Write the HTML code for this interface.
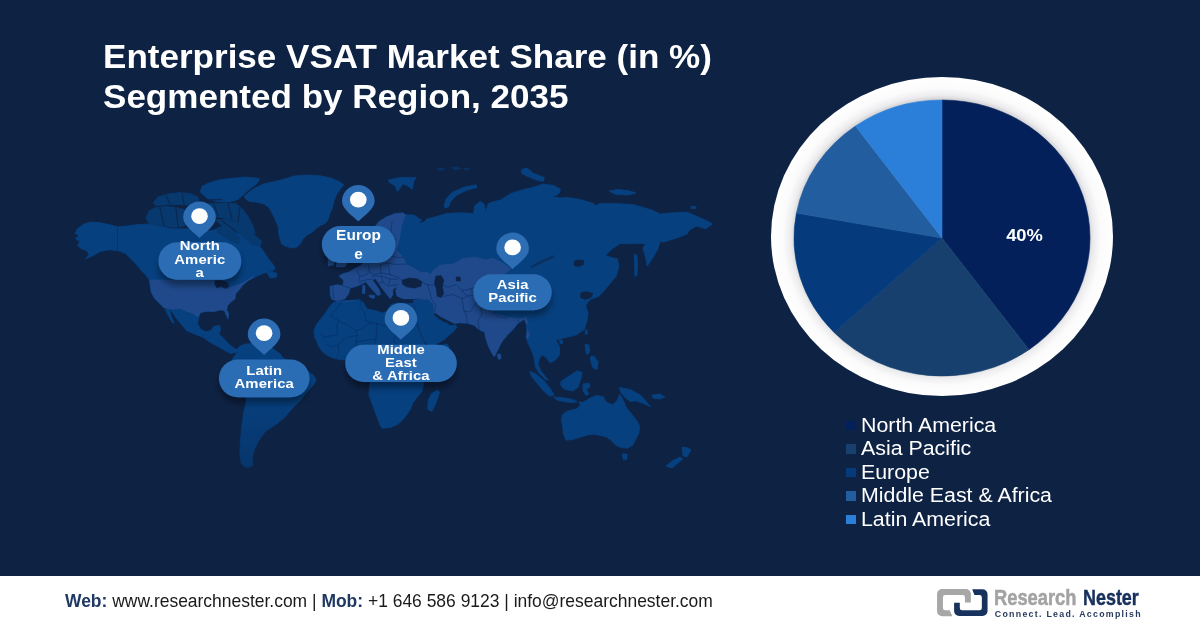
<!DOCTYPE html>
<html lang="en"><head><meta charset="utf-8"><title>Enterprise VSAT Market Share</title>
<style>
html,body{margin:0;padding:0;}
body{width:1200px;height:628px;overflow:hidden;background:#0e2244;font-family:"Liberation Sans",sans-serif;position:relative;}
#stage{position:absolute;left:0;top:0;width:1200px;height:628px;overflow:hidden;background:#0e2244;}
svg text{font-family:"Liberation Sans",sans-serif;}
.title{position:absolute;left:102.6px;top:37.1px;margin:0;color:#fff;font-weight:700;font-size:33px;line-height:39.5px;white-space:nowrap;transform-origin:0 0;transform:scaleX(1.062);}
.legend{position:absolute;left:845px;top:413.5px;color:#fff;font-size:20px;line-height:23.5px;white-space:nowrap;}
.legend div{position:relative;padding-left:16px;height:23.5px;}
.legend i{position:absolute;left:0.7px;top:7.3px;width:10.2px;height:9.5px;}
.legend span{display:inline-block;transform-origin:0 50%;transform:scaleX(1.067);}
.footer{position:absolute;left:0;top:576px;width:1200px;height:52px;background:#fff;}
.contact{position:absolute;left:65px;top:15.2px;font-size:17.47px;line-height:20px;color:#1a1a1a;white-space:nowrap;}
.contact b{color:#1f3864;}
.brand{position:absolute;top:9.5px;font-size:21.4px;line-height:24px;white-space:nowrap;transform-origin:0 0;transform:scaleX(0.838);font-weight:700;}
.tag{position:absolute;left:994.8px;top:33px;font-size:8.8px;line-height:10px;font-weight:700;color:#27395c;letter-spacing:1.28px;white-space:nowrap;}
</style></head><body><div id="stage">
<svg width="1200" height="576" viewBox="0 0 1200 576" style="position:absolute;left:0;top:0">
<defs>
<filter id="ds" x="-20%" y="-30%" width="140%" height="190%"><feGaussianBlur in="SourceAlpha" stdDeviation="3"/><feOffset dx="0" dy="6"/><feComponentTransfer><feFuncA type="linear" slope="0.38"/></feComponentTransfer><feMerge><feMergeNode/><feMergeNode in="SourceGraphic"/></feMerge></filter>
<linearGradient id="fade" x1="0" y1="0" x2="0" y2="1"><stop offset="0" stop-color="#0e2244" stop-opacity="0"/><stop offset="1" stop-color="#0e2244" stop-opacity="1"/></linearGradient>
<radialGradient id="ring" cx="0.5" cy="0.5" r="0.5"><stop offset="0.86" stop-color="#d4d4d8"/><stop offset="0.885" stop-color="#ececee"/><stop offset="0.93" stop-color="#fbfbfc"/><stop offset="1" stop-color="#ffffff"/></radialGradient>
</defs>
<g id="map"><clipPath id="landclip"><path d="M75.4,233.4 L77.4,228.8 L84.1,224.1 L90.8,222.1 L100.1,222.7 L109.5,224.7 L117.5,226.8 L126.9,226.1 L136.3,224.7 L145.6,224.1 L153.6,224.7 L161.7,226.8 L171.0,228.8 L180.4,228.8 L190.0,229.0 L200.0,230.0 L210.0,231.0 L217.0,229.0 L222.0,226.0 L227.0,223.5 L230.0,228.0 L236.0,233.0 L243.0,234.0 L248.0,232.0 L242.9,238.4 L252.2,237.1 L257.6,243.8 L262.9,250.5 L268.3,258.5 L273.6,265.2 L275.0,269.2 L268.3,272.0 L262.9,273.5 L257.0,276.0 L252.0,278.5 L247.1,281.5 L243.1,285.0 L239.1,290.1 L235.7,294.1 L235.1,298.8 L231.0,302.1 L227.7,305.5 L226.8,309.5 L228.6,314.1 L228.1,319.2 L226.4,315.5 L224.3,310.4 L220.3,310.1 L213.6,311.7 L205.6,311.5 L200.3,312.8 L198.9,316.8 L197.6,323.5 L200.3,328.9 L205.6,331.8 L211.0,330.5 L213.6,326.5 L219.7,325.5 L220.6,329.5 L219.0,334.2 L222.3,336.9 L226.8,342.1 L232.1,346.8 L236.8,349.5 L237.5,352.0 L230.8,353.5 L224.0,350.1 L216.0,345.5 L208.0,341.0 L202.9,337.2 L194.9,334.2 L186.9,330.9 L182.9,326.2 L176.2,318.2 L170.8,310.1 L164.1,308.1 L160.1,304.1 L154.8,298.8 L151.4,292.7 L150.1,286.1 L149.4,280.0 L146.0,275.5 L141.0,270.0 L136.0,264.2 L130.9,258.9 L125.6,253.5 L117.5,250.6 L109.5,249.8 L100.1,251.5 L93.4,255.5 L85.4,258.9 L88.8,254.8 L86.8,250.8 L81.4,248.8 L77.4,245.5 L80.1,241.5 L75.4,238.8 L78.7,235.5 L74.7,232.8Z M165.5,309.5 L169.5,309.8 L171.2,316.0 L174.2,322.8 L172.8,323.2 L169.0,317.0 L166.2,311.5Z M236.8,349.5 L240.1,346.1 L245.5,344.1 L252.0,343.5 L258.0,343.0 L265.0,345.0 L270.0,347.0 L274.9,350.1 L280.3,354.1 L283.0,358.2 L290.0,361.0 L298.0,364.0 L305.0,368.0 L309.7,372.9 L313.7,375.6 L316.0,380.0 L314.0,384.0 L306.2,393.1 L300.8,399.9 L292.7,408.0 L284.5,417.5 L276.4,424.2 L265.6,431.0 L258.8,440.5 L254.1,450.0 L252.1,458.0 L252.7,464.8 L250.7,467.0 L245.3,467.0 L241.2,463.5 L239.9,452.7 L240.6,439.1 L241.9,425.6 L243.9,412.0 L246.7,399.9 L243.0,392.0 L236.0,384.0 L231.0,375.0 L230.0,366.0 L233.0,358.0 L237.5,352.0Z M244.1,196.1 L253.5,188.8 L262.9,184.1 L274.9,181.4 L288.3,178.1 L293.6,176.1 L307.0,175.0 L320.4,175.8 L331.1,178.1 L339.1,181.4 L343.8,184.7 L340.5,188.8 L336.5,194.8 L333.8,201.5 L332.4,208.2 L329.8,213.5 L328.4,218.9 L325.8,222.9 L320.4,225.6 L316.4,228.2 L312.4,232.2 L307.0,234.9 L303.0,238.9 L300.3,244.0 L297.0,247.0 L293.6,248.0 L290.0,247.5 L285.0,246.0 L281.6,244.0 L278.9,234.9 L278.3,226.9 L274.9,218.9 L272.2,213.5 L269.6,208.2 L264.2,204.1 L256.2,202.1 L249.5,201.5 L245.5,198.8Z M267.0,273.0 L272.0,271.5 L277.0,273.5 L276.0,277.5 L270.0,277.9Z M200.2,192.1 L202.2,186.0 L209.2,183.0 L218.3,180.0 L230.3,178.5 L245.3,177.0 L259.5,178.5 L257.5,183.0 L250.5,188.5 L244.0,194.0 L238.0,199.5 L229.0,202.0 L216.3,201.3 L208.2,199.1Z M146.0,218.0 L149.0,211.0 L156.0,207.5 L166.0,206.5 L176.0,207.5 L184.0,209.5 L187.0,215.0 L188.5,221.0 L185.0,226.0 L176.0,227.3 L166.0,226.8 L156.0,225.5 L149.0,223.5Z M153.0,203.0 L158.0,197.0 L168.0,194.0 L180.0,192.5 L190.0,193.5 L198.0,197.0 L199.0,202.0 L190.0,205.0 L176.0,204.5 L164.0,205.0 L156.0,205.5Z M203.0,204.5 L214.0,203.2 L226.3,203.0 L236.0,203.8 L241.5,207.8 L248.0,216.2 L253.5,226.9 L255.5,234.0 L250.0,233.0 L243.0,226.5 L234.0,221.0 L224.0,218.0 L214.0,216.5 L205.0,214.0 L201.0,209.0Z M216.0,220.0 L226.0,219.5 L236.0,222.5 L245.0,228.0 L254.9,235.5 L261.6,241.0 L260.3,246.0 L252.2,244.5 L244.2,238.0 L237.5,232.5 L230.8,227.5 L221.0,225.0Z M217.5,227.7 L225.5,226.4 L233.5,231.8 L240.2,238.4 L238.9,243.8 L230.8,241.1 L222.8,235.8 L217.5,233.1Z M331.4,298.9 L330.1,293.5 L330.1,286.2 L336.8,284.8 L343.0,285.5 L343.4,280.1 L338.8,276.1 L343.4,273.4 L348.8,272.1 L354.1,268.8 L360.8,265.4 L364.0,262.0 L366.0,256.0 L366.0,248.0 L368.0,238.0 L372.0,230.0 L378.9,221.5 L386.0,217.0 L394.9,213.5 L402.9,212.8 L405.6,214.8 L414.0,215.0 L421.7,220.2 L418.0,224.0 L424.0,222.0 L427.0,218.9 L437.4,216.2 L446.8,213.5 L460.1,212.8 L473.5,213.5 L474.8,205.5 L480.2,201.5 L484.2,204.1 L486.0,212.0 L488.0,204.0 L489.6,202.8 L500.3,200.1 L511.0,193.4 L521.7,190.1 L535.0,186.8 L543.1,184.1 L553.8,185.4 L560.5,189.4 L559.1,193.4 L553.0,197.0 L560.0,198.0 L567.2,197.5 L580.0,199.4 L593.4,203.4 L595.0,206.0 L600.0,203.5 L613.4,203.4 L633.5,204.7 L652.2,210.1 L660.3,214.1 L673.6,212.7 L687.0,212.1 L697.7,216.8 L708.4,221.4 L712.4,224.1 L705.8,228.8 L696.4,226.1 L689.7,230.1 L687.0,234.1 L676.3,238.2 L662.9,242.2 L660.3,241.3 L657.7,249.4 L652.3,258.7 L647.2,266.1 L645.6,257.4 L642.9,248.0 L645.6,243.5 L638.9,243.5 L620.1,243.5 L612.1,248.9 L605.4,255.6 L613.0,258.0 L617.5,258.7 L618.9,266.8 L616.2,276.1 L610.8,282.8 L604.1,290.8 L598.8,296.2 L590.0,299.5 L585.6,305.5 L588.2,313.5 L586.9,321.5 L584.2,329.6 L576.2,334.9 L565.5,337.6 L556.1,340.3 L559.5,346.8 L559.5,354.8 L555.5,360.1 L550.1,362.8 L546.1,357.5 L542.1,354.8 L539.4,358.8 L538.1,364.1 L540.8,370.8 L546.1,377.5 L548.8,380.2 L545.0,379.0 L539.4,373.5 L535.4,366.8 L534.1,357.5 L531.0,349.4 L528.0,343.0 L526.0,337.0 L527.0,331.0 L526.5,325.0 L524.4,319.5 L520.4,322.1 L517.7,323.4 L513.7,328.8 L507.0,335.5 L501.7,342.2 L497.7,350.2 L494.3,356.9 L492.3,354.2 L488.3,346.2 L485.6,338.2 L484.3,331.5 L481.0,331.0 L480.3,330.1 L478.5,329.2 L474.3,325.4 L467.5,323.3 L459.1,322.9 L454.3,323.6 L447.0,319.8 L440.0,316.2 L435.0,312.4 L433.6,314.6 L438.0,318.9 L444.0,322.6 L447.5,323.2 L449.0,325.2 L453.0,325.8 L455.2,324.8 L457.0,327.1 L454.0,331.0 L450.6,333.9 L443.9,339.8 L438.0,343.0 L433.0,346.5 L428.6,346.0 L424.4,340.5 L420.1,331.0 L417.3,322.0 L415.6,313.0 L415.0,306.0 L413.0,303.5 L413.5,300.5 L419.0,299.6 L423.7,298.2 L414.3,298.9 L403.6,298.9 L397.0,296.2 L395.6,290.8 L397.0,286.8 L392.9,289.5 L392.9,294.8 L390.3,298.9 L386.3,293.8 L382.0,288.2 L378.0,282.2 L375.6,278.8 L372.5,280.3 L375.4,284.1 L379.2,289.5 L380.6,294.8 L377.6,295.6 L374.6,292.2 L369.6,286.8 L365.6,281.8 L362.2,284.1 L356.8,286.2 L350.1,288.2 L348.8,293.5 L344.8,298.9 L336.8,300.9Z M333.4,302.4 L340.1,301.1 L350.8,300.4 L360.2,299.7 L364.2,303.7 L366.9,309.1 L374.9,310.4 L382.9,313.1 L387.0,311.0 L391.0,304.5 L397.0,303.0 L405.0,303.4 L412.0,303.2 L414.0,306.0 L414.3,314.0 L415.8,322.0 L418.5,330.0 L422.5,339.0 L426.0,345.5 L438.0,346.0 L447.0,344.0 L449.0,347.0 L444.0,356.0 L437.0,366.0 L430.0,375.0 L423.6,382.7 L422.3,390.8 L417.0,397.5 L412.9,402.8 L410.3,409.5 L404.9,417.5 L398.2,424.2 L390.2,427.6 L382.2,428.2 L380.2,425.6 L376.8,416.2 L372.8,405.5 L368.8,394.8 L370.1,382.7 L369.0,375.0 L365.0,368.0 L362.0,362.0 L352.0,360.0 L344.1,359.9 L334.8,358.6 L328.1,355.9 L322.7,351.9 L318.7,346.5 L316.7,341.2 L314.7,337.2 L314.0,330.5 L316.1,325.1 L320.1,319.8 L325.4,313.1 L328.8,307.7Z M437.0,390.1 L439.7,392.0 L435.7,404.0 L431.7,411.5 L427.7,409.5 L428.3,400.0 L431.7,393.4Z M562.0,415.5 L566.1,411.5 L576.8,408.8 L583.4,402.1 L590.1,398.1 L596.8,395.4 L603.5,396.8 L606.2,402.1 L612.9,404.8 L616.9,400.8 L619.6,394.1 L623.6,400.8 L626.3,407.5 L631.6,414.1 L637.0,420.8 L639.6,426.2 L639.0,432.9 L635.6,439.6 L632.9,444.9 L627.6,448.3 L620.9,447.6 L615.6,444.9 L610.2,439.6 L606.2,436.9 L600.8,435.6 L594.1,434.2 L587.5,434.9 L580.8,436.9 L572.7,439.6 L566.1,440.2 L563.4,434.2 L562.7,426.2 L561.4,420.8Z M619.6,387.5 L630.3,389.5 L641.0,395.4 L649.0,404.8 L651.0,407.0 L643.6,403.4 L635.6,400.8 L630.3,401.5 L624.9,397.5 L620.9,392.5Z M652.0,395.0 L660.0,394.0 L665.0,397.0 L660.0,399.0 L653.0,398.0Z M622.0,454.0 L627.0,454.0 L627.0,459.0 L623.5,460.0Z M682.0,447.0 L688.0,448.0 L691.0,450.0 L687.0,457.0 L683.0,456.0Z M680.0,457.0 L683.0,459.0 L672.0,468.0 L666.0,466.0 L672.0,461.0Z M388.2,180.1 L400.3,177.4 L416.3,177.4 L413.6,181.4 L412.3,189.4 L407.0,185.4 L402.9,184.1 L397.6,191.4 L394.9,185.4 L389.6,182.7Z M444.1,205.5 L446.0,199.0 L452.0,192.5 L463.0,187.5 L476.2,184.8 L477.0,187.5 L466.0,190.5 L457.0,195.0 L451.0,201.0 L448.5,207.0 L445.0,208.0Z M521.7,169.4 L527.0,168.0 L533.7,173.4 L544.4,177.4 L543.1,181.4 L536.4,180.1 L527.0,176.1 L521.7,173.4Z M609.0,191.0 L618.0,189.5 L628.0,190.5 L636.0,193.0 L628.0,195.0 L616.0,194.5Z M691.0,206.5 L696.0,206.5 L696.0,208.5 L691.0,208.5Z M634.2,254.7 L636.9,254.7 L637.5,265.0 L636.9,276.1 L634.8,276.1 L634.5,265.0Z M559.5,340.0 L562.8,340.5 L562.5,344.0 L559.8,343.5Z M585.5,329.4 L587.6,330.5 L587.0,334.7 L585.0,333.5Z M585.0,344.0 L589.0,345.0 L589.5,352.0 L587.0,354.8 L585.5,350.0Z M590.3,357.0 L594.0,356.0 L598.3,362.0 L597.0,369.5 L593.0,368.0 L591.0,362.0Z M530.1,371.5 L535.4,373.5 L543.4,380.2 L550.1,388.2 L554.1,394.9 L550.1,396.3 L543.4,390.9 L536.8,382.9 L531.4,376.2Z M560.8,381.5 L568.9,376.2 L576.9,370.8 L582.2,372.2 L580.9,378.9 L578.2,386.9 L572.9,390.9 L564.8,389.6 L560.8,385.6Z M553.0,397.0 L562.0,397.5 L573.0,399.5 L577.0,402.0 L570.0,402.5 L558.0,400.5Z M583.0,384.0 L589.0,383.0 L590.0,387.0 L586.0,389.0 L589.0,394.0 L586.0,395.5 L583.0,391.0Z M579.0,402.0 L590.0,403.0 L596.0,405.0 L590.0,406.5 L580.0,404.5Z M497.0,354.5 L500.5,354.0 L501.0,358.5 L498.5,359.6Z M336.0,240.0 L342.0,238.0 L344.0,250.0 L348.0,262.0 L345.0,267.0 L336.0,267.0 L338.0,258.0 L335.0,250.0Z M328.0,255.0 L334.0,254.0 L334.0,265.0 L328.0,266.0Z M369.0,295.0 L375.0,295.5 L374.0,298.5 L370.0,297.5Z M362.5,285.5 L365.0,285.5 L365.0,293.5 L362.5,293.5Z"/></clipPath>
<linearGradient id="sag" gradientUnits="userSpaceOnUse" x1="0" y1="395" x2="0" y2="467"><stop offset="0" stop-color="#06407f"/><stop offset="1" stop-color="#07356b"/></linearGradient>
<path d="M75.4,233.4 L77.4,228.8 L84.1,224.1 L90.8,222.1 L100.1,222.7 L109.5,224.7 L117.5,226.8 L126.9,226.1 L136.3,224.7 L145.6,224.1 L153.6,224.7 L161.7,226.8 L171.0,228.8 L180.4,228.8 L190.0,229.0 L200.0,230.0 L210.0,231.0 L217.0,229.0 L222.0,226.0 L227.0,223.5 L230.0,228.0 L236.0,233.0 L243.0,234.0 L248.0,232.0 L242.9,238.4 L252.2,237.1 L257.6,243.8 L262.9,250.5 L268.3,258.5 L273.6,265.2 L275.0,269.2 L268.3,272.0 L262.9,273.5 L257.0,276.0 L252.0,278.5 L247.1,281.5 L243.1,285.0 L239.1,290.1 L235.7,294.1 L235.1,298.8 L231.0,302.1 L227.7,305.5 L226.8,309.5 L228.6,314.1 L228.1,319.2 L226.4,315.5 L224.3,310.4 L220.3,310.1 L213.6,311.7 L205.6,311.5 L200.3,312.8 L198.9,316.8 L197.6,323.5 L200.3,328.9 L205.6,331.8 L211.0,330.5 L213.6,326.5 L219.7,325.5 L220.6,329.5 L219.0,334.2 L222.3,336.9 L226.8,342.1 L232.1,346.8 L236.8,349.5 L237.5,352.0 L230.8,353.5 L224.0,350.1 L216.0,345.5 L208.0,341.0 L202.9,337.2 L194.9,334.2 L186.9,330.9 L182.9,326.2 L176.2,318.2 L170.8,310.1 L164.1,308.1 L160.1,304.1 L154.8,298.8 L151.4,292.7 L150.1,286.1 L149.4,280.0 L146.0,275.5 L141.0,270.0 L136.0,264.2 L130.9,258.9 L125.6,253.5 L117.5,250.6 L109.5,249.8 L100.1,251.5 L93.4,255.5 L85.4,258.9 L88.8,254.8 L86.8,250.8 L81.4,248.8 L77.4,245.5 L80.1,241.5 L75.4,238.8 L78.7,235.5 L74.7,232.8Z M165.5,309.5 L169.5,309.8 L171.2,316.0 L174.2,322.8 L172.8,323.2 L169.0,317.0 L166.2,311.5Z M244.1,196.1 L253.5,188.8 L262.9,184.1 L274.9,181.4 L288.3,178.1 L293.6,176.1 L307.0,175.0 L320.4,175.8 L331.1,178.1 L339.1,181.4 L343.8,184.7 L340.5,188.8 L336.5,194.8 L333.8,201.5 L332.4,208.2 L329.8,213.5 L328.4,218.9 L325.8,222.9 L320.4,225.6 L316.4,228.2 L312.4,232.2 L307.0,234.9 L303.0,238.9 L300.3,244.0 L297.0,247.0 L293.6,248.0 L290.0,247.5 L285.0,246.0 L281.6,244.0 L278.9,234.9 L278.3,226.9 L274.9,218.9 L272.2,213.5 L269.6,208.2 L264.2,204.1 L256.2,202.1 L249.5,201.5 L245.5,198.8Z M267.0,273.0 L272.0,271.5 L277.0,273.5 L276.0,277.5 L270.0,277.9Z M200.2,192.1 L202.2,186.0 L209.2,183.0 L218.3,180.0 L230.3,178.5 L245.3,177.0 L259.5,178.5 L257.5,183.0 L250.5,188.5 L244.0,194.0 L238.0,199.5 L229.0,202.0 L216.3,201.3 L208.2,199.1Z M331.4,298.9 L330.1,293.5 L330.1,286.2 L336.8,284.8 L343.0,285.5 L343.4,280.1 L338.8,276.1 L343.4,273.4 L348.8,272.1 L354.1,268.8 L360.8,265.4 L364.0,262.0 L366.0,256.0 L366.0,248.0 L368.0,238.0 L372.0,230.0 L378.9,221.5 L386.0,217.0 L394.9,213.5 L402.9,212.8 L405.6,214.8 L414.0,215.0 L421.7,220.2 L418.0,224.0 L424.0,222.0 L427.0,218.9 L437.4,216.2 L446.8,213.5 L460.1,212.8 L473.5,213.5 L474.8,205.5 L480.2,201.5 L484.2,204.1 L486.0,212.0 L488.0,204.0 L489.6,202.8 L500.3,200.1 L511.0,193.4 L521.7,190.1 L535.0,186.8 L543.1,184.1 L553.8,185.4 L560.5,189.4 L559.1,193.4 L553.0,197.0 L560.0,198.0 L567.2,197.5 L580.0,199.4 L593.4,203.4 L595.0,206.0 L600.0,203.5 L613.4,203.4 L633.5,204.7 L652.2,210.1 L660.3,214.1 L673.6,212.7 L687.0,212.1 L697.7,216.8 L708.4,221.4 L712.4,224.1 L705.8,228.8 L696.4,226.1 L689.7,230.1 L687.0,234.1 L676.3,238.2 L662.9,242.2 L660.3,241.3 L657.7,249.4 L652.3,258.7 L647.2,266.1 L645.6,257.4 L642.9,248.0 L645.6,243.5 L638.9,243.5 L620.1,243.5 L612.1,248.9 L605.4,255.6 L613.0,258.0 L617.5,258.7 L618.9,266.8 L616.2,276.1 L610.8,282.8 L604.1,290.8 L598.8,296.2 L590.0,299.5 L585.6,305.5 L588.2,313.5 L586.9,321.5 L584.2,329.6 L576.2,334.9 L565.5,337.6 L556.1,340.3 L559.5,346.8 L559.5,354.8 L555.5,360.1 L550.1,362.8 L546.1,357.5 L542.1,354.8 L539.4,358.8 L538.1,364.1 L540.8,370.8 L546.1,377.5 L548.8,380.2 L545.0,379.0 L539.4,373.5 L535.4,366.8 L534.1,357.5 L531.0,349.4 L528.0,343.0 L526.0,337.0 L527.0,331.0 L526.5,325.0 L524.4,319.5 L520.4,322.1 L517.7,323.4 L513.7,328.8 L507.0,335.5 L501.7,342.2 L497.7,350.2 L494.3,356.9 L492.3,354.2 L488.3,346.2 L485.6,338.2 L484.3,331.5 L481.0,331.0 L480.3,330.1 L478.5,329.2 L474.3,325.4 L467.5,323.3 L459.1,322.9 L454.3,323.6 L447.0,319.8 L440.0,316.2 L435.0,312.4 L433.6,314.6 L438.0,318.9 L444.0,322.6 L447.5,323.2 L449.0,325.2 L453.0,325.8 L455.2,324.8 L457.0,327.1 L454.0,331.0 L450.6,333.9 L443.9,339.8 L438.0,343.0 L433.0,346.5 L428.6,346.0 L424.4,340.5 L420.1,331.0 L417.3,322.0 L415.6,313.0 L415.0,306.0 L413.0,303.5 L413.5,300.5 L419.0,299.6 L423.7,298.2 L414.3,298.9 L403.6,298.9 L397.0,296.2 L395.6,290.8 L397.0,286.8 L392.9,289.5 L392.9,294.8 L390.3,298.9 L386.3,293.8 L382.0,288.2 L378.0,282.2 L375.6,278.8 L372.5,280.3 L375.4,284.1 L379.2,289.5 L380.6,294.8 L377.6,295.6 L374.6,292.2 L369.6,286.8 L365.6,281.8 L362.2,284.1 L356.8,286.2 L350.1,288.2 L348.8,293.5 L344.8,298.9 L336.8,300.9Z M333.4,302.4 L340.1,301.1 L350.8,300.4 L360.2,299.7 L364.2,303.7 L366.9,309.1 L374.9,310.4 L382.9,313.1 L387.0,311.0 L391.0,304.5 L397.0,303.0 L405.0,303.4 L412.0,303.2 L414.0,306.0 L414.3,314.0 L415.8,322.0 L418.5,330.0 L422.5,339.0 L426.0,345.5 L438.0,346.0 L447.0,344.0 L449.0,347.0 L444.0,356.0 L437.0,366.0 L430.0,375.0 L423.6,382.7 L422.3,390.8 L417.0,397.5 L412.9,402.8 L410.3,409.5 L404.9,417.5 L398.2,424.2 L390.2,427.6 L382.2,428.2 L380.2,425.6 L376.8,416.2 L372.8,405.5 L368.8,394.8 L370.1,382.7 L369.0,375.0 L365.0,368.0 L362.0,362.0 L352.0,360.0 L344.1,359.9 L334.8,358.6 L328.1,355.9 L322.7,351.9 L318.7,346.5 L316.7,341.2 L314.7,337.2 L314.0,330.5 L316.1,325.1 L320.1,319.8 L325.4,313.1 L328.8,307.7Z M437.0,390.1 L439.7,392.0 L435.7,404.0 L431.7,411.5 L427.7,409.5 L428.3,400.0 L431.7,393.4Z M562.0,415.5 L566.1,411.5 L576.8,408.8 L583.4,402.1 L590.1,398.1 L596.8,395.4 L603.5,396.8 L606.2,402.1 L612.9,404.8 L616.9,400.8 L619.6,394.1 L623.6,400.8 L626.3,407.5 L631.6,414.1 L637.0,420.8 L639.6,426.2 L639.0,432.9 L635.6,439.6 L632.9,444.9 L627.6,448.3 L620.9,447.6 L615.6,444.9 L610.2,439.6 L606.2,436.9 L600.8,435.6 L594.1,434.2 L587.5,434.9 L580.8,436.9 L572.7,439.6 L566.1,440.2 L563.4,434.2 L562.7,426.2 L561.4,420.8Z M619.6,387.5 L630.3,389.5 L641.0,395.4 L649.0,404.8 L651.0,407.0 L643.6,403.4 L635.6,400.8 L630.3,401.5 L624.9,397.5 L620.9,392.5Z M652.0,395.0 L660.0,394.0 L665.0,397.0 L660.0,399.0 L653.0,398.0Z M622.0,454.0 L627.0,454.0 L627.0,459.0 L623.5,460.0Z M682.0,447.0 L688.0,448.0 L691.0,450.0 L687.0,457.0 L683.0,456.0Z M680.0,457.0 L683.0,459.0 L672.0,468.0 L666.0,466.0 L672.0,461.0Z M388.2,180.1 L400.3,177.4 L416.3,177.4 L413.6,181.4 L412.3,189.4 L407.0,185.4 L402.9,184.1 L397.6,191.4 L394.9,185.4 L389.6,182.7Z M444.1,205.5 L446.0,199.0 L452.0,192.5 L463.0,187.5 L476.2,184.8 L477.0,187.5 L466.0,190.5 L457.0,195.0 L451.0,201.0 L448.5,207.0 L445.0,208.0Z M521.7,169.4 L527.0,168.0 L533.7,173.4 L544.4,177.4 L543.1,181.4 L536.4,180.1 L527.0,176.1 L521.7,173.4Z M609.0,191.0 L618.0,189.5 L628.0,190.5 L636.0,193.0 L628.0,195.0 L616.0,194.5Z M691.0,206.5 L696.0,206.5 L696.0,208.5 L691.0,208.5Z M634.2,254.7 L636.9,254.7 L637.5,265.0 L636.9,276.1 L634.8,276.1 L634.5,265.0Z M559.5,340.0 L562.8,340.5 L562.5,344.0 L559.8,343.5Z M585.5,329.4 L587.6,330.5 L587.0,334.7 L585.0,333.5Z M585.0,344.0 L589.0,345.0 L589.5,352.0 L587.0,354.8 L585.5,350.0Z M590.3,357.0 L594.0,356.0 L598.3,362.0 L597.0,369.5 L593.0,368.0 L591.0,362.0Z M530.1,371.5 L535.4,373.5 L543.4,380.2 L550.1,388.2 L554.1,394.9 L550.1,396.3 L543.4,390.9 L536.8,382.9 L531.4,376.2Z M560.8,381.5 L568.9,376.2 L576.9,370.8 L582.2,372.2 L580.9,378.9 L578.2,386.9 L572.9,390.9 L564.8,389.6 L560.8,385.6Z M553.0,397.0 L562.0,397.5 L573.0,399.5 L577.0,402.0 L570.0,402.5 L558.0,400.5Z M583.0,384.0 L589.0,383.0 L590.0,387.0 L586.0,389.0 L589.0,394.0 L586.0,395.5 L583.0,391.0Z M579.0,402.0 L590.0,403.0 L596.0,405.0 L590.0,406.5 L580.0,404.5Z M497.0,354.5 L500.5,354.0 L501.0,358.5 L498.5,359.6Z M336.0,240.0 L342.0,238.0 L344.0,250.0 L348.0,262.0 L345.0,267.0 L336.0,267.0 L338.0,258.0 L335.0,250.0Z M328.0,255.0 L334.0,254.0 L334.0,265.0 L328.0,266.0Z M369.0,295.0 L375.0,295.5 L374.0,298.5 L370.0,297.5Z M362.5,285.5 L365.0,285.5 L365.0,293.5 L362.5,293.5Z" fill="#06407f" stroke="#06407f" stroke-width="0.8" stroke-linejoin="round"/>
<path d="M146.0,218.0 L149.0,211.0 L156.0,207.5 L166.0,206.5 L176.0,207.5 L184.0,209.5 L187.0,215.0 L188.5,221.0 L185.0,226.0 L176.0,227.3 L166.0,226.8 L156.0,225.5 L149.0,223.5Z M153.0,203.0 L158.0,197.0 L168.0,194.0 L180.0,192.5 L190.0,193.5 L198.0,197.0 L199.0,202.0 L190.0,205.0 L176.0,204.5 L164.0,205.0 L156.0,205.5Z M203.0,204.5 L214.0,203.2 L226.3,203.0 L236.0,203.8 L241.5,207.8 L248.0,216.2 L253.5,226.9 L255.5,234.0 L250.0,233.0 L243.0,226.5 L234.0,221.0 L224.0,218.0 L214.0,216.5 L205.0,214.0 L201.0,209.0Z M216.0,220.0 L226.0,219.5 L236.0,222.5 L245.0,228.0 L254.9,235.5 L261.6,241.0 L260.3,246.0 L252.2,244.5 L244.2,238.0 L237.5,232.5 L230.8,227.5 L221.0,225.0Z M217.5,227.7 L225.5,226.4 L233.5,231.8 L240.2,238.4 L238.9,243.8 L230.8,241.1 L222.8,235.8 L217.5,233.1Z" fill="#07396f" stroke="#07396f" stroke-width="0.8" stroke-linejoin="round"/>
<path d="M160,208 L164,226 M176,208 L178,227 M214,204 L218,216 M228,203.5 L232,219 M240,207 L238,222 M166,195 L170,204 M182,193 L184,204.5 M222,221 L236,231 M206,200 L222,199.5" fill="none" stroke="#0e2244" stroke-width="1.3" stroke-linecap="round" opacity="0.7"/>
<path d="M236.8,349.5 L240.1,346.1 L245.5,344.1 L252.0,343.5 L258.0,343.0 L265.0,345.0 L270.0,347.0 L274.9,350.1 L280.3,354.1 L283.0,358.2 L290.0,361.0 L298.0,364.0 L305.0,368.0 L309.7,372.9 L313.7,375.6 L316.0,380.0 L314.0,384.0 L306.2,393.1 L300.8,399.9 L292.7,408.0 L284.5,417.5 L276.4,424.2 L265.6,431.0 L258.8,440.5 L254.1,450.0 L252.1,458.0 L252.7,464.8 L250.7,467.0 L245.3,467.0 L241.2,463.5 L239.9,452.7 L240.6,439.1 L241.9,425.6 L243.9,412.0 L246.7,399.9 L243.0,392.0 L236.0,384.0 L231.0,375.0 L230.0,366.0 L233.0,358.0 L237.5,352.0Z" fill="url(#sag)" stroke="url(#sag)" stroke-width="0.8" stroke-linejoin="round"/>
<g clip-path="url(#landclip)"><path d="M146.0,279.6 L214.0,280.2 L216.0,283.0 L222.0,288.0 L228.0,288.5 L233.7,286.1 L240.4,283.4 L247.1,280.0 L252.0,276.5 L258.0,279.0 L240.0,300.0 L232.0,322.0 L222.0,318.0 L214.0,314.0 L204.0,314.0 L198.9,317.3 L196.3,316.2 L192.2,313.5 L186.9,311.7 L180.2,308.8 L173.5,309.5 L164.1,308.4 L158.0,310.0 L140.0,290.0Z M322.0,303.0 L318.0,250.0 L360.0,200.0 L400.0,205.0 L406.0,214.0 L402.0,225.0 L400.0,238.0 L397.0,250.0 L403.6,257.4 L406.3,264.1 L414.0,268.0 L421.0,272.1 L427.0,272.0 L430.4,274.0 L433.4,270.1 L440.1,264.7 L453.5,263.4 L462.9,258.0 L474.9,256.7 L485.6,259.4 L493.6,258.0 L504.3,263.4 L511.0,268.7 L507.0,272.7 L496.3,276.8 L493.6,283.4 L491.0,290.1 L482.9,294.1 L480.3,300.8 L485.6,303.5 L488.3,307.5 L493.6,312.9 L507.0,316.9 L520.4,318.2 L526.4,316.9 L528.4,322.2 L526.3,326.0 L530.0,335.0 L510.0,368.0 L488.0,368.0 L474.0,334.0 L462.0,325.5 L455.0,324.2 L447.0,320.8 L440.0,317.2 L434.2,313.4 L433.0,304.3 L428.0,299.6 L421.0,299.6 L413.0,301.0 L400.0,302.0 L382.0,300.0 L366.0,297.5 L352.0,301.6 L335.0,301.7Z" fill="#1f498b"/></g>
<path d="M402.3,280.1 L409.0,278.1 L417.0,278.8 L421.7,281.5 L421.0,286.2 L414.3,288.2 L406.3,286.8 L402.3,284.1Z M435.8,276.1 L441.1,275.5 L443.8,280.1 L442.4,286.8 L443.8,293.5 L441.1,297.5 L437.1,296.2 L436.4,289.5 L434.4,282.8Z M456.0,277.0 L460.0,277.0 L460.5,281.0 L456.5,281.0Z M215.0,281.0 L221.0,280.5 L227.0,282.5 L229.0,286.0 L226.0,288.5 L221.0,286.5 L217.0,288.0 L215.0,285.0Z M580.5,293.0 L586.0,291.5 L593.0,293.5 L591.0,297.5 L585.0,299.5 L580.5,297.5Z M574.0,261.5 L577.0,260.0 L583.5,260.3 L583.8,264.5 L579.0,266.6 L574.2,265.8Z" fill="#0e2244" stroke="#0e2244" stroke-width="0.5" stroke-linejoin="round"/>
<path d="M530.6,266.4 L536.0,263.3 L545.0,258.8 L553.3,255.3 L554.3,257.2 L546.0,261.0 L537.0,265.6 L531.4,268.2Z" fill="#0e2244" opacity="0.55"/>
<path d="M436,168.5 L442,167.5 L446,169.5 L440,171Z M450,167 L457,166.5 L462,168.5 L455,170.5Z M463,168 L468,167.5 L470,169.5 L465,170.5Z" fill="#06407f" opacity="0.5"/>
<g clip-path="url(#landclip)"><path d="M341.5,302.0 L336.0,309.0 L331.0,316.0 M360.5,300.0 L360.0,307.0 L364.5,312.0 L366.0,321.0 L370.5,322.5 M397.0,303.5 L397.5,325.0 L417.0,325.0 M370.5,322.5 L377.0,323.5 L396.0,329.5 L397.5,325.0 M331.0,316.0 L338.5,320.5 L351.0,327.0 L355.5,330.5 L361.0,329.5 L370.5,322.5 M338.5,320.5 L337.0,326.0 L337.5,334.5 L324.5,337.0 L320.0,334.0 M355.5,330.5 L357.5,335.5 L349.5,337.0 L343.0,339.5 L338.0,344.5 L333.0,347.0 L327.0,345.0 M357.5,335.5 L356.0,342.0 L365.0,340.5 L376.0,339.0 L377.0,323.5 M396.0,329.5 L394.0,341.0 L399.0,347.0 M338.0,344.5 L339.0,352.0 L336.0,358.0 M356.0,342.0 L355.0,350.0 L352.0,359.0 M376.0,339.0 L374.0,347.0 L368.0,356.0 L365.0,361.0 M343.0,285.8 L350.5,288.3 M332.8,286.5 L333.5,298.5 M356.5,270.5 L360.0,276.0 L359.0,281.0 L361.5,284.5 M368.0,263.5 L369.5,272.0 L374.0,274.5 M361.0,281.0 L368.0,279.5 L374.5,279.0 M380.0,264.0 L381.0,273.0 L390.0,274.5 L398.0,277.5 L402.0,280.5 M372.0,276.0 L381.0,276.0 L390.0,279.0 L397.0,279.5 M360.0,276.0 L366.0,275.0 L369.5,272.0 M381.0,276.0 L383.0,282.0 L388.0,286.0 L392.0,285.5 L397.5,284.5 M374.0,274.5 L381.0,273.0 M383.0,282.0 L379.5,283.0 M390.0,279.0 L389.0,284.0 M386.0,249.0 L391.0,256.0 L397.0,257.5 L403.6,257.4 M381.0,264.5 L388.0,263.0 L396.0,264.5 L406.3,264.1 M388.0,263.0 L390.0,274.5 M372.0,232.0 L377.0,240.0 L375.0,250.0 M392.0,222.0 L391.0,232.0 L396.0,240.0 M440.0,284.0 L448.0,287.5 L456.0,284.5 L462.0,290.5 L470.0,289.0 L479.0,286.0 L486.0,290.0 L491.0,290.1 M443.0,296.5 L452.0,294.5 L462.0,298.5 L468.0,296.0 L476.0,294.5 L483.0,294.5 M462.0,298.5 L463.5,309.0 L466.5,316.0 L467.5,323.0 M483.0,294.5 L479.0,300.5 L474.0,306.0 L470.0,312.0 L464.0,311.0 M485.6,303.5 L481.0,309.0 L482.0,315.0 L478.0,321.0 L479.0,329.5 M429.0,289.0 L431.5,299.0 L436.0,306.0 L434.8,312.0 M421.0,281.8 L428.0,285.0 L436.0,285.0 M428.0,285.0 L429.0,289.0 M490.0,311.0 L498.0,316.5 L507.0,318.5 M518.0,318.5 L519.0,323.0 L524.0,320.0 M462.0,290.5 L466.0,295.0 L468.0,296.0 M470.0,289.0 L476.0,294.5 M479.0,286.0 L483.0,290.0 L491.0,290.1 M117.5,226.8 L117.5,250.6 L125.0,254.0 L132.0,260.5 L140.0,269.5" fill="none" stroke="#06295a" stroke-width="0.8" stroke-linejoin="round" stroke-linecap="round" opacity="0.6"/></g></g>
<g id="labels">
<rect x="158.4" y="242.2" width="82.9" height="37.5" rx="18.8" ry="18.8" fill="#2c6db4" filter="url(#ds)"/><path d="M183.20,217.70 A16.3,16.3 0 0 1 215.80,217.70 C215.80,225.85 204.39,232.70 199.50,238.00 C194.61,232.70 183.20,225.85 183.20,217.70 Z" fill="#2c6db4"/><ellipse cx="199.50" cy="216.20" rx="8.3" ry="7.9" fill="#fff"/><text transform="translate(199.8,250.4) scale(1.1,1)" text-anchor="middle" font-size="13.5" font-weight="700" fill="#fff" letter-spacing="0.1">North</text><text transform="translate(199.8,263.5) scale(1.1,1)" text-anchor="middle" font-size="13.5" font-weight="700" fill="#fff" letter-spacing="0.1">Americ</text><text transform="translate(199.8,276.6) scale(1.1,1)" text-anchor="middle" font-size="13.5" font-weight="700" fill="#fff" letter-spacing="0.1">a</text>
<rect x="321.9" y="226" width="73.6" height="36.9" rx="18.4" ry="18.4" fill="#2c6db4" filter="url(#ds)"/><path d="M342.00,201.20 A16.3,16.3 0 0 1 374.60,201.20 C374.60,209.35 363.19,216.20 358.30,221.50 C353.41,216.20 342.00,209.35 342.00,201.20 Z" fill="#2c6db4"/><ellipse cx="358.30" cy="199.70" rx="8.3" ry="7.9" fill="#fff"/><text transform="translate(358.6,240.4) scale(1.1,1)" text-anchor="middle" font-size="14" font-weight="700" fill="#fff" letter-spacing="0.1">Europ</text><text transform="translate(358.6,258.8) scale(1.1,1)" text-anchor="middle" font-size="14" font-weight="700" fill="#fff" letter-spacing="0.1">e</text>
<rect x="473.4" y="274.3" width="78.3" height="35.9" rx="17.9" ry="17.9" fill="#2c6db4" filter="url(#ds)"/><path d="M496.30,248.90 A16.3,16.3 0 0 1 528.90,248.90 C528.90,257.05 517.49,263.90 512.60,269.20 C507.71,263.90 496.30,257.05 496.30,248.90 Z" fill="#2c6db4"/><ellipse cx="512.60" cy="247.40" rx="8.3" ry="7.9" fill="#fff"/><text transform="translate(512.6,289.2) scale(1.1,1)" text-anchor="middle" font-size="13.5" font-weight="700" fill="#fff" letter-spacing="0.1">Asia</text><text transform="translate(512.6,302.0) scale(1.1,1)" text-anchor="middle" font-size="13.5" font-weight="700" fill="#fff" letter-spacing="0.1">Pacific</text>
<rect x="218.9" y="359.6" width="90.6" height="37.6" rx="18.8" ry="18.8" fill="#2c6db4" filter="url(#ds)"/><path d="M247.80,334.70 A16.3,16.3 0 0 1 280.40,334.70 C280.40,342.85 268.99,349.70 264.10,355.00 C259.21,349.70 247.80,342.85 247.80,334.70 Z" fill="#2c6db4"/><ellipse cx="264.10" cy="333.20" rx="8.3" ry="7.9" fill="#fff"/><text transform="translate(264.2,375.0) scale(1.1,1)" text-anchor="middle" font-size="13.5" font-weight="700" fill="#fff" letter-spacing="0.1">Latin</text><text transform="translate(264.2,387.6) scale(1.1,1)" text-anchor="middle" font-size="13.5" font-weight="700" fill="#fff" letter-spacing="0.1">America</text>
<rect x="345.2" y="344.7" width="111.6" height="37.3" rx="18.7" ry="18.7" fill="#2c6db4" filter="url(#ds)"/><path d="M384.60,319.40 A16.3,16.3 0 0 1 417.20,319.40 C417.20,327.55 405.79,334.40 400.90,339.70 C396.01,334.40 384.60,327.55 384.60,319.40 Z" fill="#2c6db4"/><ellipse cx="400.90" cy="317.90" rx="8.3" ry="7.9" fill="#fff"/><text transform="translate(401.0,353.9) scale(1.1,1)" text-anchor="middle" font-size="13.5" font-weight="700" fill="#fff" letter-spacing="0.1">Middle</text><text transform="translate(401.0,366.9) scale(1.1,1)" text-anchor="middle" font-size="13.5" font-weight="700" fill="#fff" letter-spacing="0.1">East</text><text transform="translate(401.0,379.7) scale(1.1,1)" text-anchor="middle" font-size="13.5" font-weight="700" fill="#fff" letter-spacing="0.1">&amp; Africa</text>
</g>
<g id="pie">
<ellipse cx="942" cy="236.5" rx="171" ry="159.5" fill="url(#ring)"/>
<path d="M942,238 L942.00,100.00 A148,138 0 0 1 1028.99,349.64 Z" fill="#03205a" stroke="#03205a" stroke-width="0.6"/><path d="M942,238 L1028.99,349.64 A148,138 0 0 1 834.11,332.47 Z" fill="#17406e" stroke="#17406e" stroke-width="0.6"/><path d="M942,238 L834.11,332.47 A148,138 0 0 1 796.43,213.09 Z" fill="#053b7d" stroke="#053b7d" stroke-width="0.6"/><path d="M942,238 L796.43,213.09 A148,138 0 0 1 855.43,126.07 Z" fill="#225d9f" stroke="#225d9f" stroke-width="0.6"/><path d="M942,238 L855.43,126.07 A148,138 0 0 1 942.00,100.00 Z" fill="#2c7fd8" stroke="#2c7fd8" stroke-width="0.6"/>
<text transform="translate(1024.5,241.3) scale(1.08,1)" text-anchor="middle" font-size="17" font-weight="700" fill="#fff">40%</text>
</g>
</svg>
<h1 class="title">Enterprise VSAT Market Share (in %)<br>Segmented by Region, 2035</h1>
<div class="legend">
<div><i style="background:#03205a"></i><span>North America</span></div>
<div><i style="background:#17406e"></i><span>Asia Pacific</span></div>
<div><i style="background:#053b7d"></i><span>Europe</span></div>
<div><i style="background:#225d9f"></i><span>Middle East &amp; Africa</span></div>
<div><i style="background:#2c7fd8"></i><span>Latin America</span></div>
</div>
<div class="footer">
<div class="contact"><b>Web:</b> www.researchnester.com | <b>Mob:</b> +1 646 586 9123 | info@researchnester.com</div>
<svg width="60" height="36" viewBox="0 0 60 36" style="position:absolute;left:934px;top:10px">
<path d="M36.85,16.4 V8.05 A5,5 0 0 0 31.85,3.05 H8.05 A5,5 0 0 0 3.05,8.05 V25.25 A5,5 0 0 0 8.05,30.25 H18.4 L15.7,24.35 H11.25 A2.3,2.3 0 0 1 8.95,22.05 V11.25 A2.3,2.3 0 0 1 11.25,8.95 H28.65 A2.3,2.3 0 0 1 30.95,11.25 V16.4 Z" fill="#a7a7a7"/>
<path d="M38.2,3.25 H48.55 A5,5 0 0 1 53.55,8.25 V24.95 A5,5 0 0 1 48.55,29.95 H25.1 A5,5 0 0 1 20.1,24.95 V16.7 H25.8 V21.95 A2.3,2.3 0 0 0 28.1,24.25 H45.55 A2.3,2.3 0 0 0 47.85,21.95 V11.25 A2.3,2.3 0 0 0 45.55,8.95 H40.4 Z" fill="#17335d"/>
</svg>
<div class="brand" style="left:994.2px;color:#a3a3a3;-webkit-text-stroke:0.5px #a3a3a3;transform:scaleX(0.856)">Research</div><div class="brand" style="left:1082.8px;color:#17305c;-webkit-text-stroke:0.45px #17305c;transform:scaleX(0.838)">Nester</div>
<div class="tag">Connect. Lead. Accomplish</div>
</div>
</div></body></html>
